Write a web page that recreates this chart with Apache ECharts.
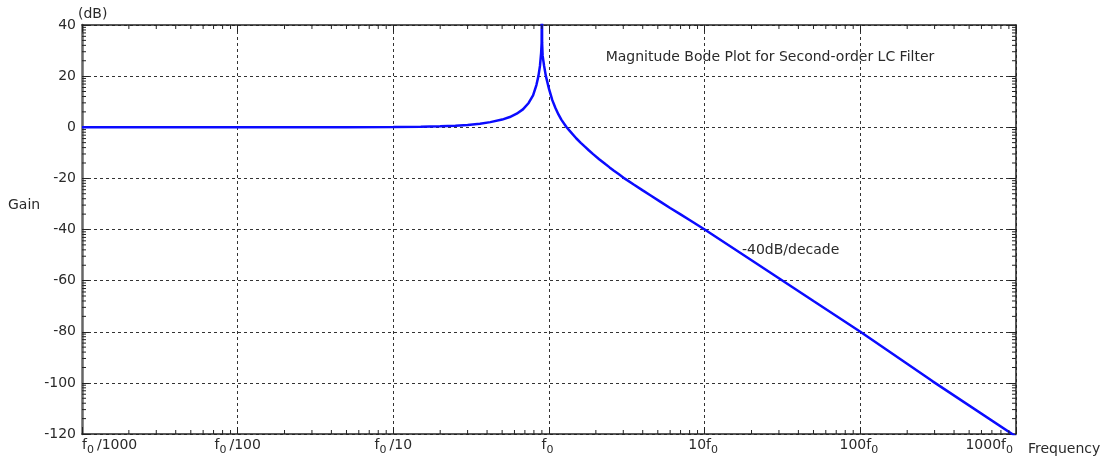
<!DOCTYPE html>
<html><head><meta charset="utf-8">
<script src="https://cdn.jsdelivr.net/npm/echarts/dist/echarts.min.js"></script>
<style>html,body{margin:0;padding:0;background:#fff}#c{width:1111px;height:464px}</style>
</head><body><div id="c"></div>
<script>
// frequency relative to f0 (log axis), gain in dB
const freq = [0.001, 0.01, 0.05, 0.1, 0.15, 0.2, 0.25, 0.3, 0.36, 0.42, 0.5, 0.56, 0.62, 0.68, 0.74, 0.79, 0.83, 0.855, 0.875, 0.89, 0.897, 0.9, 0.903, 0.91, 0.93, 0.955, 1.0, 1.05, 1.1, 1.15, 1.2, 1.29, 1.35, 1.5, 1.6, 1.7, 1.8, 1.92, 2.1, 2.3, 2.45, 2.6, 2.8, 3.07, 3.5, 4, 4.5, 5.15, 6, 7, 8, 10, 20, 50, 100, 290, 1000];
const gain = [0, 0, 0, 0.1, 0.2, 0.35, 0.6, 0.9, 1.4, 2.0, 3.0, 4.0, 5.3, 7.0, 9.5, 12.5, 16.5, 20, 24, 29, 33, 60, 33, 28, 24, 20, 15, 10.6, 7.5, 5, 3, 0.2, -1.2, -4.4, -6.1, -7.6, -9.0, -10.5, -12.5, -14.4, -15.7, -16.9, -18.3, -20.1, -22.4, -24.7, -26.7, -29.0, -31.6, -34.1, -36.3, -40, -52, -68, -80, -99.3, -121];
const xTickLabels = ['f0/1000', 'f0/100', 'f0/10', 'f0', '10f0', '100f0', '1000f0'];
const yTicks = [-120, -100, -80, -60, -40, -20, 0, 20, 40];
const titleText = 'Magnitude Bode Plot for Second-order LC Filter';
const slopeText = '-40dB/decade';
const xName = 'Frequency';
const yName = 'Gain';
const yUnit = '(dB)';

const FONT = 'DejaVu Sans';
const TXT = '#2a2a2a';
const AX = '#222';

function richLabel(t) {
  const i = t.indexOf('f0');
  const pre = t.slice(0, i), post = t.slice(i + 2);
  let s = '';
  if (pre) s += '{a|' + pre + '}';
  s += '{a|f}{s|0}';
  if (post) s += '{a|' + post + '}';
  return s;
}

// minor tick positions (axis decoration)
const xMinor = [];
for (let d = -3; d < 3; d++) for (let k = 2; k <= 9; k++) xMinor.push([k * Math.pow(10, d), 0]);
const yMinor = [];
for (let i = 0; i < yTicks.length - 1; i++) for (let k = 2; k <= 9; k++) yMinor.push([1, yTicks[i] + (yTicks[i + 1] - yTicks[i]) * Math.log10(k)]);

const xMin = 0.001, xMax = 1000, yMin = yTicks[0], yMax = yTicks[yTicks.length - 1];

const chart = echarts.init(document.getElementById('c'), null, {renderer: 'canvas'});
const gridLine = {show: true, lineStyle: {color: '#333', width: 1, type: [3, 3]}};
const option = {
  backgroundColor: '#fff',
  animation: false,
  grid: {left: 82, right: 95, top: 25, bottom: 30, containLabel: false, outerBoundsMode: 'none'},
  xAxis: [{
    type: 'log', logBase: 10, min: xMin, max: xMax, splitNumber: 6,
    axisLine: {show: true, onZero: false, lineStyle: {color: AX, width: 1.5}},
    axisTick: {show: true, inside: true, length: 7, lineStyle: {color: AX}},
    splitLine: gridLine,
    minorTick: {show: false}, minorSplitLine: {show: false},
    axisLabel: {
      margin: 4, alignMinLabel: 'left', alignMaxLabel: 'right', hideOverlap: false,
      formatter: v => richLabel(xTickLabels[Math.round(Math.log10(v)) + 3]),
      rich: {
        a: {fontFamily: FONT, fontSize: 14, color: TXT, lineHeight: 14, verticalAlign: 'top'},
        s: {fontFamily: FONT, fontSize: 11, color: TXT, lineHeight: 18, verticalAlign: 'bottom', padding: [0, 3, 0, 0]}
      }
    }
  }, {
    type: 'log', logBase: 10, min: xMin, max: xMax, splitNumber: 6, position: 'top',
    axisLine: {show: true, onZero: false, lineStyle: {color: AX, width: 1.5}},
    axisTick: {show: true, inside: true, length: 7, lineStyle: {color: AX}},
    splitLine: {show: false}, axisLabel: {show: false}
  }],
  yAxis: [{
    type: 'value', min: yMin, max: yMax, interval: 20,
    axisLine: {show: true, onZero: false, lineStyle: {color: '#666', width: 2.5}},
    axisTick: {show: true, inside: true, length: 7, lineStyle: {color: AX}},
    splitLine: gridLine,
    axisLabel: {fontFamily: FONT, fontSize: 14, color: TXT, margin: 6, hideOverlap: false}
  }, {
    type: 'value', min: yMin, max: yMax, interval: 20, position: 'right',
    axisLine: {show: true, onZero: false, lineStyle: {color: AX, width: 1.5}},
    axisTick: {show: true, inside: true, length: 7, lineStyle: {color: AX}},
    splitLine: {show: false}, axisLabel: {show: false}
  }],
  graphic: [
    {type: 'text', x: 78, y: 14, style: {text: yUnit, font: '14px "' + FONT + '"', fill: TXT, textVerticalAlign: 'middle'}},
    {type: 'text', x: 8, y: 205, style: {text: yName, font: '14px "' + FONT + '"', fill: TXT, textVerticalAlign: 'middle'}},
    {type: 'text', x: 1028, y: 449, style: {text: xName, font: '14px "' + FONT + '"', fill: TXT, textVerticalAlign: 'middle'}},
    {type: 'text', x: 770, y: 57, style: {text: titleText, font: '14px "' + FONT + '"', fill: TXT, textAlign: 'center', textVerticalAlign: 'middle'}},
    {type: 'text', x: 742, y: 250, style: {text: slopeText, font: '14px "' + FONT + '"', fill: TXT, textVerticalAlign: 'middle'}}
  ],
  series: [{
    type: 'line', xAxisIndex: 0, yAxisIndex: 0,
    data: freq.map((f, i) => [f, gain[i]]),
    showSymbol: false, symbol: 'none', smooth: false, clip: true,
    lineStyle: {color: '#0b0bff', width: 2.5}, z: 5
  }, {
    type: 'custom', xAxisIndex: 0, yAxisIndex: 0, silent: true, clip: false, z: 6,
    data: xMinor,
    renderItem: (params, api) => {
      const b = api.coord([api.value(0), yMin]);
      const t = api.coord([api.value(0), yMax]);
      return {type: 'group', children: [
        {type: 'line', shape: {x1: b[0], y1: b[1], x2: b[0], y2: b[1] - 4}, style: {stroke: AX, lineWidth: 1}},
        {type: 'line', shape: {x1: t[0], y1: t[1], x2: t[0], y2: t[1] + 4}, style: {stroke: AX, lineWidth: 1}}
      ]};
    }
  }, {
    type: 'custom', xAxisIndex: 0, yAxisIndex: 0, silent: true, clip: false, z: 6,
    data: yMinor,
    renderItem: (params, api) => {
      const l = api.coord([xMin, api.value(1)]);
      const r = api.coord([xMax, api.value(1)]);
      return {type: 'group', children: [
        {type: 'line', shape: {x1: l[0], y1: l[1], x2: l[0] + 4, y2: l[1]}, style: {stroke: AX, lineWidth: 1}},
        {type: 'line', shape: {x1: r[0], y1: r[1], x2: r[0] - 4, y2: r[1]}, style: {stroke: AX, lineWidth: 1}}
      ]};
    }
  }]
};
chart.setOption(option);
</script>
</body></html>
